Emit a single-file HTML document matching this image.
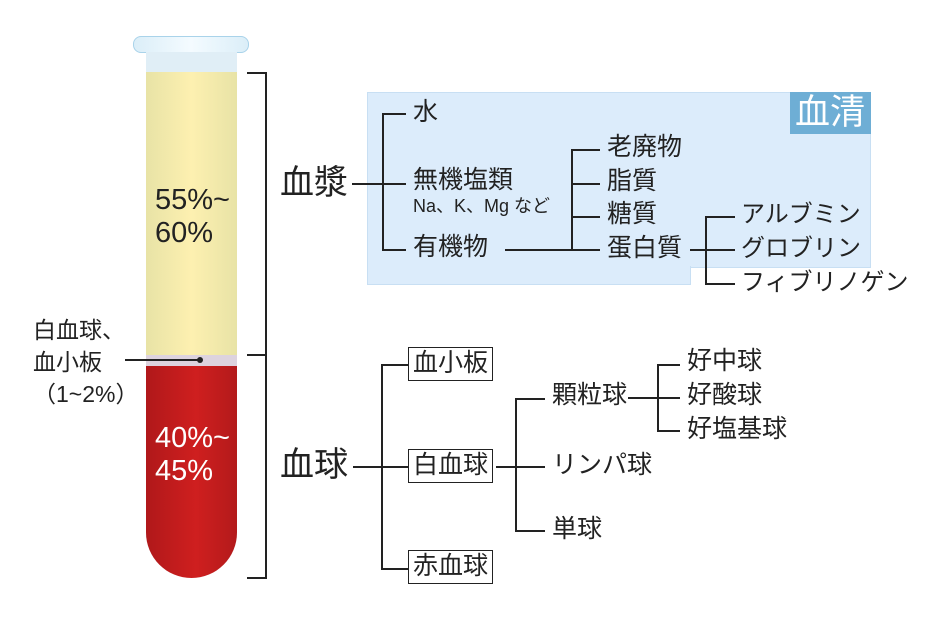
<!DOCTYPE html>
<html><head><meta charset="utf-8"><style>
body{margin:0;width:925px;height:625px;background:#fff;position:relative;overflow:hidden;font-family:"Liberation Sans","Noto Sans CJK JP",sans-serif;color:#222}
.a{position:absolute;white-space:nowrap;line-height:1}
.h{position:absolute;height:1.5px;background:#222}
.v{position:absolute;width:1.5px;background:#222}
.t{font-size:25px}
.k{font-size:24px}
.box{position:absolute;border:1.5px solid #222;background:#fff;font-size:25px;line-height:31px;padding:0 4px;box-sizing:border-box;height:34px}
</style></head><body>
<!-- tube -->
<div style="position:absolute;left:133px;top:36px;width:116px;height:17px;border-radius:8px;background:linear-gradient(90deg,#dbeef8,#f4fbff,#dbeef8);border:1px solid #a9d3ea;box-sizing:border-box"></div>
<div style="position:absolute;left:146px;top:52px;width:91px;height:526px;border-radius:0 0 46px 46px;overflow:hidden;background:#e0eef6">
 <div style="position:absolute;left:0;top:20px;width:91px;height:283px;background:linear-gradient(90deg,#e8e3a6,#fdf0b0 50%,#e8e3a6)"></div>
 <div style="position:absolute;left:0;top:303px;width:91px;height:11px;background:#ddd3de"></div>
 <div style="position:absolute;left:0;top:314px;width:91px;height:212px;background:linear-gradient(90deg,#b0181a,#cf1f1f 55%,#b31a1b)"></div>
</div>
<div class="a" style="left:155px;top:184px;font-size:29px;line-height:33px">55%~<br>60%</div>
<div class="a" style="left:155px;top:422px;font-size:29px;line-height:33px;color:#fff">40%~<br>45%</div>
<div class="a" style="left:33px;top:314px;font-size:23px;line-height:32px">白血球、<br>血小板<br>（1~2%）</div>
<div class="h" style="left:125px;top:359px;width:75px"></div>
<div style="position:absolute;left:197px;top:357px;width:6px;height:6px;border-radius:3px;background:#222"></div>
<!-- bracket -->
<div class="h" style="left:247px;top:72px;width:20px"></div>
<div class="h" style="left:247px;top:354px;width:20px"></div>
<div class="h" style="left:247px;top:577px;width:20px"></div>
<div class="v" style="left:265px;top:72px;height:507px"></div>
<!-- serum area -->
<div style="position:absolute;left:367px;top:92px;width:504px;height:176px;background:#dcecfb;border:1px solid #c8dff3;box-sizing:border-box"></div>
<div style="position:absolute;left:367px;top:266px;width:324px;height:19px;background:#dcecfb;border:1px solid #c8dff3;border-top:none;box-sizing:border-box"></div>
<div style="position:absolute;left:790px;top:92px;width:81px;height:42px;background:#6eaed5"></div>
<div class="a" style="left:795px;top:95px;font-size:35px;color:#fff">血清</div>
<div class="a" style="left:280px;top:166px;font-size:34px">血漿</div>
<div class="h" style="left:352px;top:183px;width:31px"></div>
<div class="v" style="left:382px;top:113px;height:137px"></div>
<div class="h" style="left:382px;top:113px;width:24px"></div>
<div class="h" style="left:382px;top:183px;width:24px"></div>
<div class="h" style="left:382px;top:249px;width:24px"></div>
<div class="a t" style="left:413px;top:100px">水</div>
<div class="a t" style="left:413px;top:168px">無機塩類</div>
<div class="a" style="left:413px;top:197px;font-size:18px">Na、K、Mg など</div>
<div class="a t" style="left:413px;top:235px">有機物</div>
<div class="h" style="left:505px;top:249px;width:95px"></div>
<div class="v" style="left:571px;top:149px;height:101px"></div>
<div class="h" style="left:571px;top:149px;width:29px"></div>
<div class="h" style="left:571px;top:183px;width:29px"></div>
<div class="h" style="left:571px;top:216px;width:29px"></div>
<div class="a t" style="left:607px;top:135px">老廃物</div>
<div class="a t" style="left:607px;top:169px">脂質</div>
<div class="a t" style="left:607px;top:202px">糖質</div>
<div class="a t" style="left:607px;top:236px">蛋白質</div>
<div class="h" style="left:690px;top:249px;width:45px"></div>
<div class="v" style="left:705px;top:216px;height:68px"></div>
<div class="h" style="left:705px;top:216px;width:30px"></div>
<div class="h" style="left:705px;top:283px;width:30px"></div>
<div class="a k" style="left:741px;top:203px">アルブミン</div>
<div class="a k" style="left:741px;top:237px">グロブリン</div>
<div class="a k" style="left:741px;top:271px">フィブリノゲン</div>
<!-- blood cells -->
<div class="a" style="left:280px;top:448px;font-size:34px">血球</div>
<div class="h" style="left:353px;top:466px;width:55px"></div>
<div class="v" style="left:381px;top:364px;height:205px"></div>
<div class="h" style="left:381px;top:364px;width:27px"></div>
<div class="h" style="left:381px;top:568px;width:27px"></div>
<div class="box" style="left:408px;top:347px">血小板</div>
<div class="box" style="left:408px;top:449px">白血球</div>
<div class="box" style="left:408px;top:550px">赤血球</div>
<div class="h" style="left:496px;top:466px;width:49px"></div>
<div class="v" style="left:515px;top:398px;height:133px"></div>
<div class="h" style="left:515px;top:398px;width:30px"></div>
<div class="h" style="left:515px;top:530px;width:30px"></div>
<div class="a t" style="left:552px;top:383px">顆粒球</div>
<div class="a t" style="left:552px;top:453px">リンパ球</div>
<div class="a t" style="left:552px;top:517px">単球</div>
<div class="h" style="left:628px;top:397px;width:52px"></div>
<div class="v" style="left:657px;top:364px;height:67px"></div>
<div class="h" style="left:657px;top:364px;width:23px"></div>
<div class="h" style="left:657px;top:430px;width:23px"></div>
<div class="a t" style="left:687px;top:349px">好中球</div>
<div class="a t" style="left:687px;top:383px">好酸球</div>
<div class="a t" style="left:687px;top:417px">好塩基球</div>
</body></html>
